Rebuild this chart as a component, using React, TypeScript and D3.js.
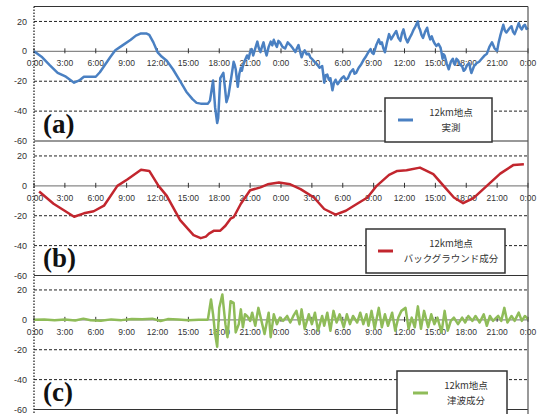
import React from 'react';
import * as d3 from 'd3';

// hours from start, water level (cm)
const observed: [number, number][] = [
  [0,0],[0.8,-4],[1.5,-9],[2.3,-14.4],[3.1,-17],[3.9,-21],[4.4,-19.5],[4.85,-17],[5.5,-17],[6.0,-17],
  [6.4,-14],[6.8,-10],[7.4,-4],[7.9,0.7],[8.6,4],[9.4,7.7],[9.9,10.5],[10.4,12],[10.9,12],[11.2,11],
  [11.6,6],[12.0,-0.5],[12.4,-3.5],[12.9,-6.3],[13.5,-12],[14.2,-20],[14.8,-27],[15.4,-32],[15.8,-34.5],[16.2,-35],
  [16.9,-35],[17.1,-33],[17.4,-19.5],[17.6,-37.7],[17.8,-48],[17.9,-44.6],[18.1,-18],[18.4,-14.4],[18.7,-34],[18.9,-29.5],
  [19.4,-7],[19.5,-9],[19.6,-12],[19.7,-18],[19.8,-23.7],[19.95,-15],[20.1,-11],[20.2,-13],[20.3,-9.8],[20.5,-6],
  [20.7,-2.8],[20.85,-5],[21.0,-0.5],[21.15,1.5],[21.3,-2.8],[21.5,2],[21.7,6.5],[21.85,2],[22.0,-0.5],[22.15,3],
  [22.3,6],[22.45,1],[22.6,-2.8],[22.8,3],[23.0,6.5],[23.15,4],[23.3,7.7],[23.45,5],[23.6,3],[23.75,7],
  [23.9,6],[24.15,3],[24.4,1.9],[24.65,6],[24.9,4.2],[25.15,2],[25.4,-0.5],[25.55,2],[25.7,4.2],[25.85,0],
  [26.0,-4],[26.15,-1],[26.3,0.7],[26.5,-2],[26.7,-1.6],[26.85,-4],[27.0,-5],[27.25,-7],[27.5,-8.6],[27.75,-11],
  [28.0,-9.8],[28.1,-15],[28.2,-21],[28.35,-16],[28.5,-15.6],[28.65,-19],[28.8,-18],[28.9,-22],[29.0,-26],[29.15,-21],
  [29.3,-19],[29.5,-22],[29.7,-20],[29.9,-18],[30.1,-16.7],[30.3,-19],[30.5,-18],[30.75,-14],[31.0,-12],[31.15,-15],
  [31.3,-14.4],[31.55,-11],[31.8,-8.6],[32.0,-6],[32.2,-4],[32.45,-1],[32.7,1.5],[32.85,-1],[33.0,-1.7],[33.25,4],
  [33.5,8],[33.65,5],[33.8,6],[33.95,2],[34.1,-0.6],[34.3,6],[34.5,11.5],[34.7,8],[34.9,10.3],[35.05,12],
  [35.2,13.6],[35.4,9],[35.6,7],[35.75,12],[35.9,14.7],[36.1,9],[36.3,6],[36.5,9],[36.7,11.5],[36.85,14],
  [37.0,15.8],[37.15,18],[37.3,20],[37.4,16],[37.5,14.7],[37.65,11],[37.8,9],[38.0,13],[38.2,15.8],[38.35,11],
  [38.5,8],[38.65,10],[38.8,7],[38.95,5],[39.1,3.6],[39.3,5],[39.5,2.5],[39.6,-1],[39.7,-5],[39.8,-2],
  [39.9,-2.8],[40.1,-8],[40.3,-12],[40.5,-7],[40.7,-5],[40.8,-8],[40.9,-9],[41.05,-5],[41.2,-6],[41.4,-9],
  [41.6,-10],[41.75,-13],[41.9,-12],[42.1,-9],[42.3,-8],[42.4,-12],[42.5,-14.5],[42.75,-10],[43.0,-8],[43.25,-7],
  [43.5,-5],[43.75,-3],[44.0,-1.7],[44.25,3],[44.5,6],[44.75,2],[45.0,0.4],[45.15,6],[45.3,10.3],[45.45,14],
  [45.6,17.8],[45.75,14],[45.9,12.6],[46.15,15],[46.4,16.8],[46.55,13],[46.7,11.5],[46.9,15],[47.1,18.9],[47.25,16],
  [47.4,14.7],[47.55,17],[47.7,17.8],[47.85,15],[48.0,15.8]
];

const background: [number, number][] = [
  [0.5,-3.8],[1.9,-12],[3.9,-20.7],[4.85,-18.4],[5.8,-17],[6.8,-13.3],[8.1,0],[9.1,4.4],[10.4,10.7],[11.2,10],
  [12.1,0],[12.9,-6.7],[14.2,-23],[15.5,-33],[16.2,-35],[16.7,-34],[17.0,-32],[17.5,-30],[18.1,-30],[18.6,-26.7],
  [19.1,-22],[19.4,-21],[20.1,-12],[21.0,-3],[22.0,-1],[22.7,1],[23.8,2.2],[24.9,1],[25.9,-2.2],[27.2,-7.8],
  [28.2,-15.5],[29.3,-19.3],[30.3,-16.7],[31.4,-12],[32.4,-7.8],[33.3,0],[34.5,7.3],[35.3,10],[36.2,10.4],[37.5,12.2],
  [38.8,7.8],[39.8,0],[40.8,-7.8],[41.7,-11.6],[42.7,-8.2],[44.0,0],[45.3,8.2],[46.6,14],[47.6,14.4]
];

const tsunami: [number, number][] = [
  [0,0],[1,0.2],[2,-0.3],[3,0.3],[4,-0.5],[4.8,0.8],[5.5,-0.3],[6.5,-0.6],[7.5,0.3],[8.5,-0.2],
  [9.5,0.6],[10.5,0.4],[11.5,0.8],[12.3,-0.8],[13,0.5],[14,0.3],[15,-0.3],[16,0],[16.8,0],[16.9,0.4],
  [17.2,13.6],[17.4,3.7],[17.6,-9.5],[17.8,-18],[18.0,8],[18.3,17],[18.6,-2.9],[18.8,-11.6],[19.1,12.5],[19.4,11.4],
  [19.6,-8.4],[19.9,-2.9],[20.1,7],[20.3,-5],[20.5,3.7],[20.7,2.6],[21.0,-0.7],[21.2,4.8],[21.5,-4],[21.8,8],
  [22.1,-0.7],[22.4,-9.5],[22.8,4.8],[23.0,-11.6],[23.3,3.7],[23.6,-2.9],[23.9,1.5],[24.2,-0.7],[24.6,2.6],[24.9,-1.8],
  [25.2,2.6],[25.5,6],[25.8,-2.9],[26.0,7],[26.3,-6],[26.7,3.7],[27.0,-2.9],[27.3,4.8],[27.6,-7.3],[28.0,2.6],
  [28.2,-4],[28.5,4.8],[28.8,-7.3],[29.1,6],[29.4,-1.8],[29.7,3.7],[30.1,-5],[30.4,3.7],[30.7,-2.9],[31.0,2.6],
  [31.4,-1.8],[31.7,4.8],[32.0,-2.9],[32.3,3.7],[32.5,-4],[32.8,6],[33.1,-6],[33.5,8],[33.8,-5],[34.1,3.7],
  [34.4,-4],[34.8,4.8],[35.1,-7.3],[35.4,1.5],[35.7,6],[36.1,8],[36.4,-6],[36.7,1.5],[37.0,-5],[37.3,9],
  [37.6,-6],[37.9,6],[38.3,-5],[38.6,3.7],[38.9,-2.9],[39.2,1.5],[39.6,-8.4],[39.9,6],[40.2,-7.3],[40.5,-0.7],
  [40.8,1.5],[41.2,-2.9],[41.6,1.5],[41.9,-1.8],[42.2,2.6],[42.6,-0.7],[42.9,2.6],[43.3,-1.8],[43.7,3.7],[44.0,-4],
  [44.3,2.6],[44.6,-0.7],[45.1,2.6],[45.4,-0.7],[45.7,8],[46.0,-1.8],[46.4,2.6],[46.7,-0.7],[47.1,4.8],[47.4,-0.7],
  [47.7,2.6],[48.0,0.4]
];

const panelTags = ['(a)', '(b)', '(c)'];
const legendTitles = ['12km地点', '12km地点', '12km地点'];
const legendNames = ['実測', 'バックグラウンド成分', '津波成分'];
const yTicks = [20, 0, -20, -40, -60];
const xTicks = d3.range(0, 49, 3);

export default class App extends React.Component {
  container: HTMLDivElement | null = null;

  render() {
    return (
      <div
        ref={ref => { this.container = ref; }}
        style={{ position: 'absolute', left: 0, top: 0, width: 538, height: 414 }}
      />
    );
  }

  componentDidMount() {
    const width = 538, height = 414;
    const left = 34, right = 528;
    const panelTop = [6.5, 141, 275];
    const panelH = 134.5;
    const colors = ['#4A80C2', '#C2262E', '#8FBC59'];
    const series = [observed, background, tsunami];
    const legendBox = [
      { x: 385, y: 98, w: 107, h: 44, lx: 398, cx: 451 },
      { x: 366, y: 229, w: 139, h: 44, lx: 378, cx: 451 },
      { x: 397, y: 371, w: 110, h: 44, lx: 413, cx: 466 }
    ];

    d3.select(this.container).selectAll('*').remove();
    const svg = d3.select(this.container)
      .append('svg')
      .attr('width', width)
      .attr('height', height)
      .style('display', 'block')
      .style('background', '#fff');

    const x = d3.scaleLinear().domain([0, 48]).range([left, right]);

    panelTop.forEach((top, i) => {
      const y = d3.scaleLinear().domain([-60, 30]).range([top + panelH, top]);
      const g = svg.append('g');

      // grid lines
      [20, -20, -40].forEach(v => {
        g.append('line')
          .attr('x1', left).attr('x2', right)
          .attr('y1', y(v)).attr('y2', y(v))
          .attr('stroke', '#222').attr('stroke-width', 1)
          .attr('stroke-dasharray', '3,2');
      });
      g.append('line')
        .attr('x1', left).attr('x2', right)
        .attr('y1', y(-60)).attr('y2', y(-60))
        .attr('stroke', '#333').attr('stroke-width', 1.2);

      // zero line with ticks
      g.append('line')
        .attr('x1', left).attr('x2', right)
        .attr('y1', y(0)).attr('y2', y(0))
        .attr('stroke', '#888').attr('stroke-width', 1.2);
      g.selectAll('.xt').data(xTicks).enter().append('line')
        .attr('x1', d => x(d)).attr('x2', d => x(d))
        .attr('y1', y(0) - 3).attr('y2', y(0) + 2)
        .attr('stroke', '#333').attr('stroke-width', 1);
      g.selectAll('.xl').data(xTicks).enter().append('text')
        .attr('x', d => x(d) + (d === 0 ? 1 : 0))
        .attr('y', y(0) + 15)
        .attr('text-anchor', 'middle')
        .attr('font-family', 'Liberation Sans, Arial, sans-serif')
        .attr('font-size', 8.5)
        .attr('fill', '#333')
        .text(d => (d % 24) + ':00');

      // y labels
      g.selectAll('.yl').data(yTicks).enter().append('text')
        .attr('x', 27)
        .attr('y', d => y(d))
        .attr('dy', '0.35em')
        .attr('text-anchor', 'end')
        .attr('font-family', 'Liberation Sans, Arial, sans-serif')
        .attr('font-size', 9)
        .attr('fill', '#333')
        .text(d => d);

      // series
      const line = d3.line<[number, number]>()
        .x(d => x(d[0]))
        .y(d => y(d[1]))
        .curve(d3.curveLinear);
      g.append('path')
        .datum(series[i])
        .attr('d', line)
        .attr('fill', 'none')
        .attr('stroke', colors[i])
        .attr('stroke-width', 2.5)
        .attr('stroke-linejoin', 'round');

      // panel tag
      g.append('text')
        .attr('x', 43)
        .attr('y', top + 126)
        .attr('font-family', 'Liberation Serif, Times New Roman, serif')
        .attr('font-weight', 'bold')
        .attr('font-size', 27)
        .attr('fill', '#111')
        .text(panelTags[i]);

      // legend
      const lb = legendBox[i];
      g.append('rect')
        .attr('x', lb.x).attr('y', lb.y)
        .attr('width', lb.w).attr('height', lb.h)
        .attr('fill', '#fff')
        .attr('stroke', '#333').attr('stroke-width', 1.5);
      g.append('line')
        .attr('x1', lb.lx).attr('x2', lb.lx + 15)
        .attr('y1', lb.y + 22).attr('y2', lb.y + 22)
        .attr('stroke', colors[i]).attr('stroke-width', 3);
      g.append('text')
        .attr('x', lb.cx).attr('y', lb.y + 18)
        .attr('text-anchor', 'middle')
        .attr('font-family', 'Noto Sans CJK JP, sans-serif')
        .attr('font-size', 9.5)
        .attr('fill', '#333')
        .text(legendTitles[i]);
      g.append('text')
        .attr('x', lb.cx).attr('y', lb.y + 33)
        .attr('text-anchor', 'middle')
        .attr('font-family', 'Noto Sans CJK JP, sans-serif')
        .attr('font-size', 9.5)
        .attr('fill', '#333')
        .text(legendNames[i]);
    });

    // frame: top border, dotted left axis, right border
    svg.append('line')
      .attr('x1', left).attr('x2', right)
      .attr('y1', panelTop[0]).attr('y2', panelTop[0])
      .attr('stroke', '#333').attr('stroke-width', 1.2);
    svg.append('line')
      .attr('x1', left).attr('x2', left)
      .attr('y1', panelTop[0]).attr('y2', height)
      .attr('stroke', '#111').attr('stroke-width', 1.2)
      .attr('stroke-dasharray', '1.5,1.5');
    svg.append('line')
      .attr('x1', right).attr('x2', right)
      .attr('y1', panelTop[0]).attr('y2', height)
      .attr('stroke', '#555').attr('stroke-width', 1.2);
  }
}
